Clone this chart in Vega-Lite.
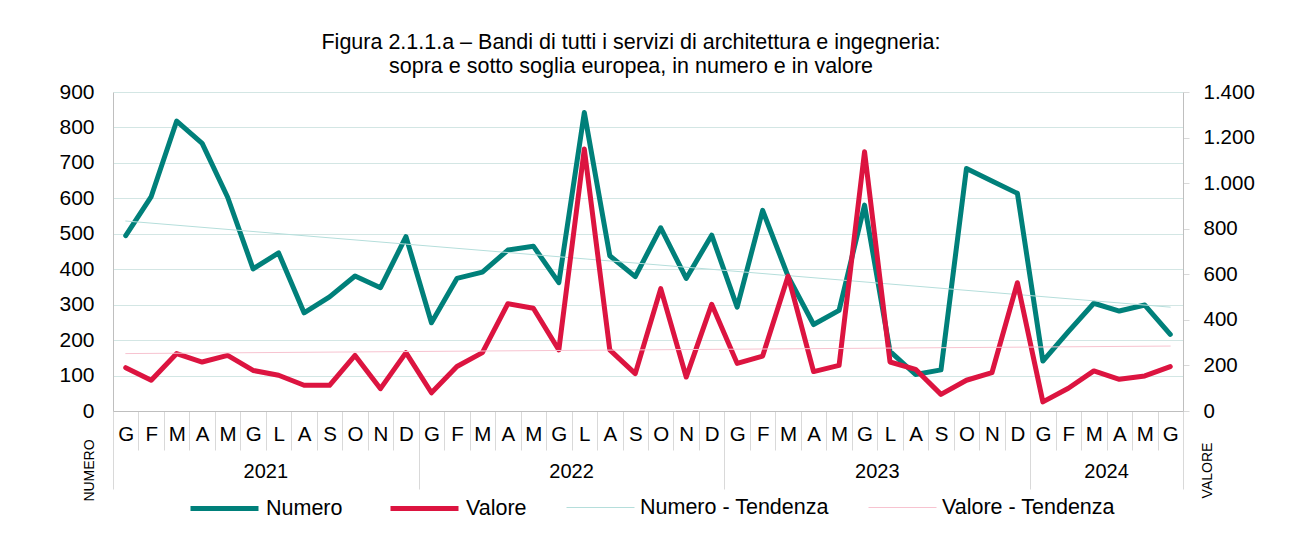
{
  "$schema": "https://vega.github.io/schema/vega-lite/v6.json",
  "width": 1070,
  "height": 319,
  "autosize": {"type": "none"},
  "padding": {"left": 113, "top": 92, "right": 108, "bottom": 129},
  "background": "white",
  "config": {
    "font": "Liberation Sans",
    "view": {"stroke": null},
    "axis": {"labelFont": "Liberation Sans", "labelColor": "#000000", "titleFont": "Liberation Sans", "titleColor": "#000000"},
    "legend": {"labelFont": "Liberation Sans", "labelColor": "#000000"}
  },
  "title": {
    "text": ["Figura 2.1.1.a – Bandi di tutti i servizi di architettura e ingegneria:", "sopra e sotto soglia europea, in numero e in valore"],
    "fontSize": 21.5,
    "fontWeight": "normal",
    "font": "Liberation Sans",
    "color": "#000000",
    "lineHeight": 24,
    "anchor": "middle",
    "frame": "group",
    "offset": 4,
    "dx": -17
  },
  "data": {
    "values": [
      {"periodo": "2021-01", "serie": "Numero", "v": 495},
      {"periodo": "2021-02", "serie": "Numero", "v": 605},
      {"periodo": "2021-03", "serie": "Numero", "v": 818},
      {"periodo": "2021-04", "serie": "Numero", "v": 755},
      {"periodo": "2021-05", "serie": "Numero", "v": 603},
      {"periodo": "2021-06", "serie": "Numero", "v": 401},
      {"periodo": "2021-07", "serie": "Numero", "v": 446},
      {"periodo": "2021-08", "serie": "Numero", "v": 277},
      {"periodo": "2021-09", "serie": "Numero", "v": 322},
      {"periodo": "2021-10", "serie": "Numero", "v": 381},
      {"periodo": "2021-11", "serie": "Numero", "v": 348},
      {"periodo": "2021-12", "serie": "Numero", "v": 492},
      {"periodo": "2022-01", "serie": "Numero", "v": 249},
      {"periodo": "2022-02", "serie": "Numero", "v": 374},
      {"periodo": "2022-03", "serie": "Numero", "v": 392},
      {"periodo": "2022-04", "serie": "Numero", "v": 454},
      {"periodo": "2022-05", "serie": "Numero", "v": 465},
      {"periodo": "2022-06", "serie": "Numero", "v": 362},
      {"periodo": "2022-07", "serie": "Numero", "v": 842},
      {"periodo": "2022-08", "serie": "Numero", "v": 438},
      {"periodo": "2022-09", "serie": "Numero", "v": 379},
      {"periodo": "2022-10", "serie": "Numero", "v": 517},
      {"periodo": "2022-11", "serie": "Numero", "v": 374},
      {"periodo": "2022-12", "serie": "Numero", "v": 496},
      {"periodo": "2023-01", "serie": "Numero", "v": 293},
      {"periodo": "2023-02", "serie": "Numero", "v": 566},
      {"periodo": "2023-03", "serie": "Numero", "v": 380},
      {"periodo": "2023-04", "serie": "Numero", "v": 244},
      {"periodo": "2023-05", "serie": "Numero", "v": 284},
      {"periodo": "2023-06", "serie": "Numero", "v": 581},
      {"periodo": "2023-07", "serie": "Numero", "v": 168},
      {"periodo": "2023-08", "serie": "Numero", "v": 103},
      {"periodo": "2023-09", "serie": "Numero", "v": 116},
      {"periodo": "2023-10", "serie": "Numero", "v": 684},
      {"periodo": "2023-11", "serie": "Numero", "v": 649},
      {"periodo": "2023-12", "serie": "Numero", "v": 614},
      {"periodo": "2024-01", "serie": "Numero", "v": 141},
      {"periodo": "2024-02", "serie": "Numero", "v": 224},
      {"periodo": "2024-03", "serie": "Numero", "v": 304},
      {"periodo": "2024-04", "serie": "Numero", "v": 282},
      {"periodo": "2024-05", "serie": "Numero", "v": 299},
      {"periodo": "2024-06", "serie": "Numero", "v": 216},
      {"periodo": "2021-01", "serie": "Valore", "v": 190},
      {"periodo": "2021-02", "serie": "Valore", "v": 135},
      {"periodo": "2021-03", "serie": "Valore", "v": 252},
      {"periodo": "2021-04", "serie": "Valore", "v": 215},
      {"periodo": "2021-05", "serie": "Valore", "v": 244},
      {"periodo": "2021-06", "serie": "Valore", "v": 178},
      {"periodo": "2021-07", "serie": "Valore", "v": 157},
      {"periodo": "2021-08", "serie": "Valore", "v": 113},
      {"periodo": "2021-09", "serie": "Valore", "v": 113},
      {"periodo": "2021-10", "serie": "Valore", "v": 244},
      {"periodo": "2021-11", "serie": "Valore", "v": 98},
      {"periodo": "2021-12", "serie": "Valore", "v": 256},
      {"periodo": "2022-01", "serie": "Valore", "v": 80},
      {"periodo": "2022-02", "serie": "Valore", "v": 195},
      {"periodo": "2022-03", "serie": "Valore", "v": 256},
      {"periodo": "2022-04", "serie": "Valore", "v": 471},
      {"periodo": "2022-05", "serie": "Valore", "v": 451},
      {"periodo": "2022-06", "serie": "Valore", "v": 268},
      {"periodo": "2022-07", "serie": "Valore", "v": 1150},
      {"periodo": "2022-08", "serie": "Valore", "v": 268},
      {"periodo": "2022-09", "serie": "Valore", "v": 164},
      {"periodo": "2022-10", "serie": "Valore", "v": 537},
      {"periodo": "2022-11", "serie": "Valore", "v": 149},
      {"periodo": "2022-12", "serie": "Valore", "v": 468},
      {"periodo": "2023-01", "serie": "Valore", "v": 209},
      {"periodo": "2023-02", "serie": "Valore", "v": 241},
      {"periodo": "2023-03", "serie": "Valore", "v": 592},
      {"periodo": "2023-04", "serie": "Valore", "v": 173},
      {"periodo": "2023-05", "serie": "Valore", "v": 200},
      {"periodo": "2023-06", "serie": "Valore", "v": 1138},
      {"periodo": "2023-07", "serie": "Valore", "v": 215},
      {"periodo": "2023-08", "serie": "Valore", "v": 183},
      {"periodo": "2023-09", "serie": "Valore", "v": 73},
      {"periodo": "2023-10", "serie": "Valore", "v": 135},
      {"periodo": "2023-11", "serie": "Valore", "v": 168},
      {"periodo": "2023-12", "serie": "Valore", "v": 563},
      {"periodo": "2024-01", "serie": "Valore", "v": 40},
      {"periodo": "2024-02", "serie": "Valore", "v": 100},
      {"periodo": "2024-03", "serie": "Valore", "v": 176},
      {"periodo": "2024-04", "serie": "Valore", "v": 139},
      {"periodo": "2024-05", "serie": "Valore", "v": 154},
      {"periodo": "2024-06", "serie": "Valore", "v": 195},
      {"periodo": "2021-01", "serie": "Numero - Tendenza", "v": 536},
      {"periodo": "2024-06", "serie": "Numero - Tendenza", "v": 293},
      {"periodo": "2021-01", "serie": "Valore - Tendenza", "v": 252},
      {"periodo": "2024-06", "serie": "Valore - Tendenza", "v": 285}
    ]
  },
  "layer": [
    {
      "transform": [{"filter": "datum.serie == 'Numero' || datum.serie == 'Numero - Tendenza'"}],
      "mark": {"type": "line", "strokeCap": "round", "strokeJoin": "round"},
      "encoding": {
        "x": {
          "field": "periodo",
          "type": "ordinal",
          "scale": {"type": "band", "paddingInner": 0, "paddingOuter": 0},
          "axis": {
            "orient": "bottom",
            "title": null,
            "grid": false,
            "tickBand": "extent",
            "tickSize": {"condition": {"test": "datum.extra || substring(datum.value, 5, 7) == '12' || datum.value == '2024-06'", "value": 78}, "value": 39},
            "labelPadding": {"condition": {"test": "substring(datum.value, 5, 7) == '12' || datum.value == '2024-06'", "value": -65}, "value": -26},
            "tickColor": "#d9d9d9",
            "tickWidth": 1,
            "domainColor": "#bfbfbf",
            "labelExpr": "['G','F','M','A','M','G','L','A','S','O','N','D'][toNumber(substring(datum.value, 5, 7)) - 1]",
            "labelFontSize": 20.5,
            "labelAngle": 0
          }
        },
        "y": {
          "field": "v",
          "type": "quantitative",
          "scale": {"domain": [0, 900], "nice": false, "zero": true},
          "axis": {
            "orient": "left",
            "values": [0, 100, 200, 300, 400, 500, 600, 700, 800, 900],
            "grid": true,
            "gridColor": "#d3e6e4",
            "ticks": false,
            "domainColor": "#bfbfbf",
            "labelFontSize": 21,
            "labelPadding": 19,
            "title": "NUMERO",
            "titleFontSize": 14,
            "titleFontWeight": "normal",
            "titleAngle": -90,
            "titleAlign": "center",
            "titleBaseline": "middle",
            "titleX": -24,
            "titleY": 378
          }
        },
        "color": {
          "field": "serie",
          "type": "nominal",
          "scale": {"domain": ["Numero", "Valore", "Numero - Tendenza", "Valore - Tendenza"], "range": ["#00807a", "#dc1440", "#b5dedb", "#f7c3d0"]},
          "legend": {"title": null, "orient": "none", "legendX": 75, "legendY": 380, "direction": "horizontal", "symbolType": "stroke", "symbolSize": 4624, "labelFontSize": 21.5, "labelOffset": 5, "labelLimit": 400, "columnPadding": 37, "padding": 0}
        },
        "strokeWidth": {
          "field": "serie",
          "type": "nominal",
          "scale": {"type": "ordinal", "domain": ["Numero", "Valore", "Numero - Tendenza", "Valore - Tendenza"], "range": [5, 5, 1, 1]},
          "legend": {"title": null, "orient": "none", "legendX": 75, "legendY": 380, "direction": "horizontal", "symbolType": "stroke", "symbolSize": 4624, "labelFontSize": 21.5, "labelOffset": 5, "labelLimit": 400, "columnPadding": 37, "padding": 0}
        }
      }
    },
    {
      "transform": [{"filter": "datum.serie == 'Valore' || datum.serie == 'Valore - Tendenza'"}],
      "mark": {"type": "line", "strokeCap": "round", "strokeJoin": "round"},
      "encoding": {
        "x": {
          "field": "periodo",
          "type": "ordinal",
          "scale": {"type": "band", "paddingInner": 0, "paddingOuter": 0},
          "axis": {
            "orient": "bottom",
            "title": null,
            "grid": false,
            "ticks": false,
            "domain": false,
            "values": ["2021-07", "2022-07", "2023-07", "2024-04"],
            "labelExpr": "substring(datum.value, 0, 4)",
            "labelFontSize": 20,
            "labelAngle": 0,
            "labelOffset": -12.74,
            "labelPadding": 50
          }
        },
        "y": {
          "field": "v",
          "type": "quantitative",
          "scale": {"domain": [0, 1400], "nice": false, "zero": true},
          "axis": {
            "orient": "right",
            "values": [0, 200, 400, 600, 800, 1000, 1200, 1400],
            "labelExpr": "replace(format(datum.value, ','), ',', '.')",
            "grid": false,
            "tickSize": 6,
            "tickColor": "#d9d9d9",
            "domainColor": "#bfbfbf",
            "labelFontSize": 20.5,
            "labelPadding": 14,
            "title": "VALORE",
            "titleFontSize": 14,
            "titleFontWeight": "normal",
            "titleAngle": -90,
            "titleAlign": "center",
            "titleBaseline": "middle",
            "titleX": 24,
            "titleY": 378
          }
        },
        "color": {
          "field": "serie",
          "type": "nominal",
          "scale": {"domain": ["Numero", "Valore", "Numero - Tendenza", "Valore - Tendenza"], "range": ["#00807a", "#dc1440", "#b5dedb", "#f7c3d0"]},
          "legend": {"title": null, "orient": "none", "legendX": 75, "legendY": 380, "direction": "horizontal", "symbolType": "stroke", "symbolSize": 4624, "labelFontSize": 21.5, "labelOffset": 5, "labelLimit": 400, "columnPadding": 37, "padding": 0}
        },
        "strokeWidth": {
          "field": "serie",
          "type": "nominal",
          "scale": {"type": "ordinal", "domain": ["Numero", "Valore", "Numero - Tendenza", "Valore - Tendenza"], "range": [5, 5, 1, 1]},
          "legend": {"title": null, "orient": "none", "legendX": 75, "legendY": 380, "direction": "horizontal", "symbolType": "stroke", "symbolSize": 4624, "labelFontSize": 21.5, "labelOffset": 5, "labelLimit": 400, "columnPadding": 37, "padding": 0}
        }
      }
    }
  ],
  "resolve": {"scale": {"y": "independent"}, "axis": {"x": "independent"}}
}
